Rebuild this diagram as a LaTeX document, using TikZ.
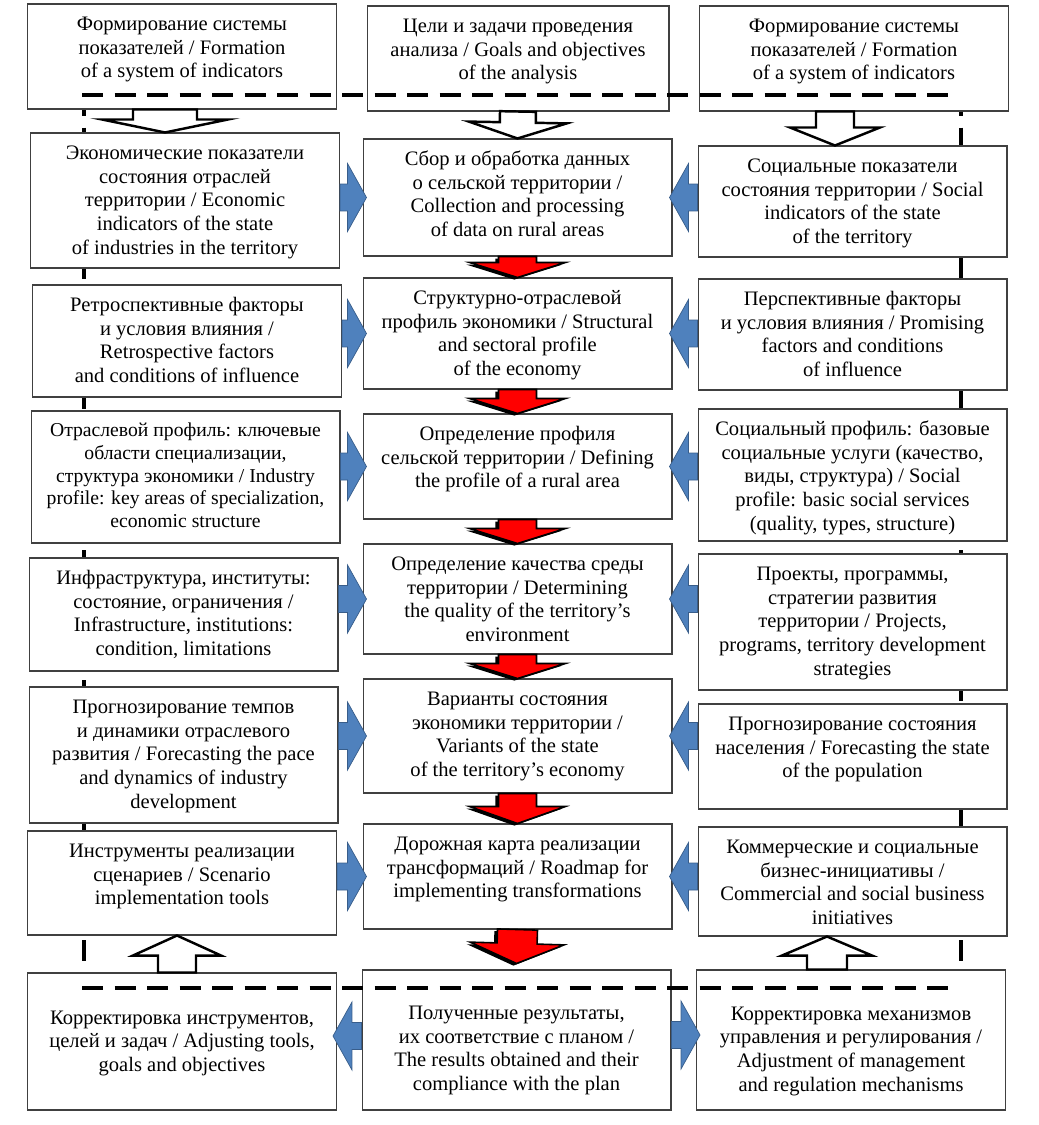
\documentclass[tikz,border=0pt]{standalone}
\usepackage{fontspec}
\setmainfont{Liberation Serif}
\usepackage{tikz}
\usetikzlibrary{calc, shadows}
\definecolor{arrowblue}{RGB}{79,129,189}
\definecolor{arrowblueedge}{RGB}{56,93,138}
\definecolor{arrowred}{RGB}{255,0,0}

% block arrow: style, from, to, shaft half-width, head half-width, head length
\newcommand{\blockarrow}[6]{%
  \coordinate (ba-s) at #2;
  \coordinate (ba-e) at #3;
  \coordinate (ba-b) at ($(ba-e)!#6!(ba-s)$);
  \draw[#1] ($(ba-s)!#4!90:(ba-e)$) -- ($(ba-b)!#4!90:(ba-e)$)
    -- ($(ba-b)!#5!90:(ba-e)$) -- (ba-e) -- ($(ba-b)!#5!-90:(ba-e)$)
    -- ($(ba-b)!#4!-90:(ba-e)$) -- ($(ba-s)!#4!-90:(ba-e)$) -- cycle;
}
% text of a box, set from the top: [extra space], box height, lines
\def\stagewidth{6.0cm}
\newcommand{\stagetext}[3][]{%
  \parbox[c][\dimexpr#2-11.2pt\relax][t]{\stagewidth}{#1\centering\strut #3}}

\begin{document}
\begin{tikzpicture}[x=0.02cm, y=-0.02cm,
  stage/.style={draw=black!75, line width=0.6pt, fill=white,
    inner xsep=0.09cm, inner ysep=5.6pt,
    font=\fontsize{11.7pt}{13.5pt}\selectfont},
  feedback/.style={line width=2.3pt, dash pattern=on 12pt off 6.5pt},
  redarrow/.style={fill=arrowred, draw=black, line width=0.9pt,
    drop shadow={shadow xshift=-1.8pt, shadow yshift=-1.2pt, opacity=1, fill=black}},
  whitearrow/.style={fill=white, draw=black, line width=1.4pt},
  bluearrow/.style={fill=arrowblue, draw=arrowblueedge, line width=0.4pt}]
\useasboundingbox (0,0) rectangle (1038,1125);
\def\xL{184} \def\xM{517.5} \def\xR{852.5}
% feedback lines (behind the boxes)
\coordinate (vL1) at (84,95);  \coordinate (vL2) at (84,988);
\coordinate (vR1) at (961,95); \coordinate (vR2) at (961,988);
\draw[feedback] (vL1) -- (vL2);
\draw[feedback] (vR1) -- (vR2);
% Row 0
\node[stage] (l0) at (182,56.5) {\stagetext{2.10cm}
  {Формирование системы\\ показателей / Formation\\ of a system of indicators}};
\node[stage] (m0) at (518,58.5) {\def\stagewidth{5.86cm}\stagetext{2.10cm}
  {Цели и задачи проведения\\ анализа / Goals and objectives\\ of the analysis}};
\node[stage] (r0) at (854,58.5) {\stagetext{2.10cm}
  {Формирование системы\\ показателей / Formation\\ of a system of indicators}};
% Row 1
\node[stage] (l1) at (185,200.5) {\stagetext{2.70cm}
  {Экономические показатели\\ состояния отраслей\\ территории / Economic\\ indicators of the state\\ of industries in the territory}};
\node[stage] (m1) at (\xM,197.5) {\stagetext{2.34cm}
  {Сбор и обработка данных\\ о сельской территории /\\ Collection and processing\\ of data on rural areas}};
\node[stage] (r1) at (\xR,201.5) {\stagetext{2.22cm}
  {Социальные показатели\\ состояния территории / Social\\ indicators of the state\\ of the territory}};
% Row 2
\node[stage] (l2) at (187,341) {\stagetext{2.24cm}
  {Ретроспективные факторы\\ и условия влияния /\\ Retrospective factors\\ and conditions of influence}};
\node[stage] (m2) at (\xM,333.5) {\stagetext{2.22cm}
  {Структурно-отраслевой\\ профиль экономики / Structural\\ and sectoral profile\\ of the economy}};
\node[stage] (r2) at (\xR,334.5) {\stagetext{2.22cm}
  {Перспективные факторы\\ и условия влияния / Promising\\ factors and conditions\\ of influence}};
% Row 3
\node[stage, font=\fontsize{11.2pt}{12.9pt}\selectfont] (l3) at (185.5,477) {\stagetext{2.64cm}
  {Отраслевой профиль: ключевые\\ области специализации,\\ структура экономики / Industry\\ profile: key areas of specialization,\\ economic structure}};
\node[stage] (m3) at (\xM,466.5) {\stagetext{2.10cm}
  {Определение профиля\\ сельской территории / Defining\\ the profile of a rural area}};
\node[stage] (r3) at (\xR,475) {\stagetext{2.64cm}
  {Социальный профиль: базовые\\ социальные услуги (качество,\\ виды, структура) / Social\\ profile: basic social services\\ (quality, types, structure)}};
% Row 4
\node[stage] (l4) at (183.5,614.5) {\stagetext{2.26cm}
  {Инфраструктура, институты:\\ состояние, ограничения /\\ Infrastructure, institutions:\\ condition, limitations}};
\node[stage] (m4) at (\xM,599) {\stagetext{2.20cm}
  {Определение качества среды\\ территории / Determining\\ the quality of the territory’s\\ environment}};
\node[stage] (r4) at (\xR,622) {\stagetext{2.72cm}
  {Проекты, программы,\\ стратегии развития\\ территории / Projects,\\ programs, territory development\\ strategies}};
% Row 5
\node[stage] (l5) at (183.5,755) {\stagetext{2.72cm}
  {Прогнозирование темпов\\ и динамики отраслевого\\ развития / Forecasting the pace\\ and dynamics of industry\\ development}};
\node[stage] (m5) at (\xM,736) {\stagetext{2.28cm}
  {Варианты состояния\\ экономики территории /\\ Variants of the state\\ of the territory’s economy}};
\node[stage] (r5) at (\xR,756.5) {\stagetext{2.10cm}
  {Прогнозирование состояния\\ населения / Forecasting the state\\ of the population}};
% Row 6
\node[stage] (l6) at (182,883) {\stagetext{2.08cm}
  {Инструменты реализации\\ сценариев / Scenario\\ implementation tools}};
\node[stage] (m6) at (\xM,876.5) {\stagetext{2.10cm}
  {Дорожная карта реализации\\ трансформаций / Roadmap for\\ implementing transformations}};
\node[stage] (r6) at (\xR,881.5) {\stagetext{2.18cm}
  {Коммерческие и социальные\\ бизнес-инициативы /\\ Commercial and social business\\ initiatives}};
% Row 7
\node[stage] (l7) at (182,1041.5) {\stagetext[\vspace*{14pt}]{2.74cm}
  {Корректировка инструментов,\\ целей и задач / Adjusting tools,\\ goals and objectives}};
\node[stage] (m7) at (516.5,1040) {\stagetext[\vspace*{13pt}]{2.80cm}
  {Полученные результаты,\\ их соответствие с планом /\\ The results obtained and their\\ compliance with the plan}};
\node[stage] (r7) at (851,1040) {\stagetext[\vspace*{13.5pt}]{2.80cm}
  {Корректировка механизмов\\ управления и регулирования /\\ Adjustment of management\\ and regulation mechanisms}};
% feedback lines (over the boxes)
\coordinate (hT1) at (82,95);  \coordinate (hT2) at (955,95);
\coordinate (hB1) at (82,988); \coordinate (hB2) at (955,988);
\draw[feedback] (hT1) -- (hT2);
\draw[feedback] (hB1) -- (hB2);
% white arrows
\coordinate (w1) at ($(l0.south)+(-17,0)$);
\coordinate (w3) at ($(r0.south)+(-19,0)$);
\blockarrow{whitearrow}{(w1)}{(w1 |- l1.north)}{0.64cm}{1.26cm}{0.26cm}
\blockarrow{whitearrow}{(m0.south)}{(m1.north)}{0.36cm}{0.98cm}{0.32cm}
\blockarrow{whitearrow}{(w3)}{(w3 |- r1.north)}{0.38cm}{0.90cm}{0.36cm}
\coordinate (w4) at ($(l7.north)+(-5,0)$);
\coordinate (w6) at ($(r7.north)+(-24,0)$);
\blockarrow{whitearrow}{(w4)}{(w4 |- l6.south)}{0.38cm}{0.88cm}{0.40cm}
\blockarrow{whitearrow}{(w6)}{(w6 |- r6.south)}{0.40cm}{0.90cm}{0.38cm}
% red arrows
\blockarrow{redarrow}{(m1.south)}{(m2.north)}{0.38cm}{0.96cm}{0.30cm}
\blockarrow{redarrow}{(m2.south)}{(m3.north)}{0.38cm}{0.96cm}{0.30cm}
\blockarrow{redarrow}{(m3.south)}{(m4.north)}{0.38cm}{0.96cm}{0.30cm}
\blockarrow{redarrow}{(m4.south)}{(m5.north)}{0.38cm}{0.96cm}{0.30cm}
\blockarrow{redarrow}{(m5.south)}{(m6.north)}{0.38cm}{0.96cm}{0.34cm}
\blockarrow{redarrow}{(m6.south)}{($(m7.north)+(0,-6)$)}{0.40cm}{0.94cm}{0.40cm}
% blue arrows
\foreach \r in {1,...,6}{
  \blockarrow{bluearrow}{(l\r.east |- m\r.west)}{($(m\r.west)+(4,0)$)}{0.27cm}{0.68cm}{0.38cm}
  \blockarrow{bluearrow}{(r\r.west |- m\r.east)}{($(m\r.east)+(-3,0)$)}{0.27cm}{0.68cm}{0.38cm}
}
\blockarrow{bluearrow}{($(m7.west)+(0,-4)$)}{($(l7.east |- m7.west)+(-4,-4)$)}{0.27cm}{0.68cm}{0.38cm}
\blockarrow{bluearrow}{($(m7.east)+(0,-5)$)}{($(r7.west |- m7.east)+(4,-5)$)}{0.27cm}{0.68cm}{0.38cm}
\end{tikzpicture}
\end{document}
